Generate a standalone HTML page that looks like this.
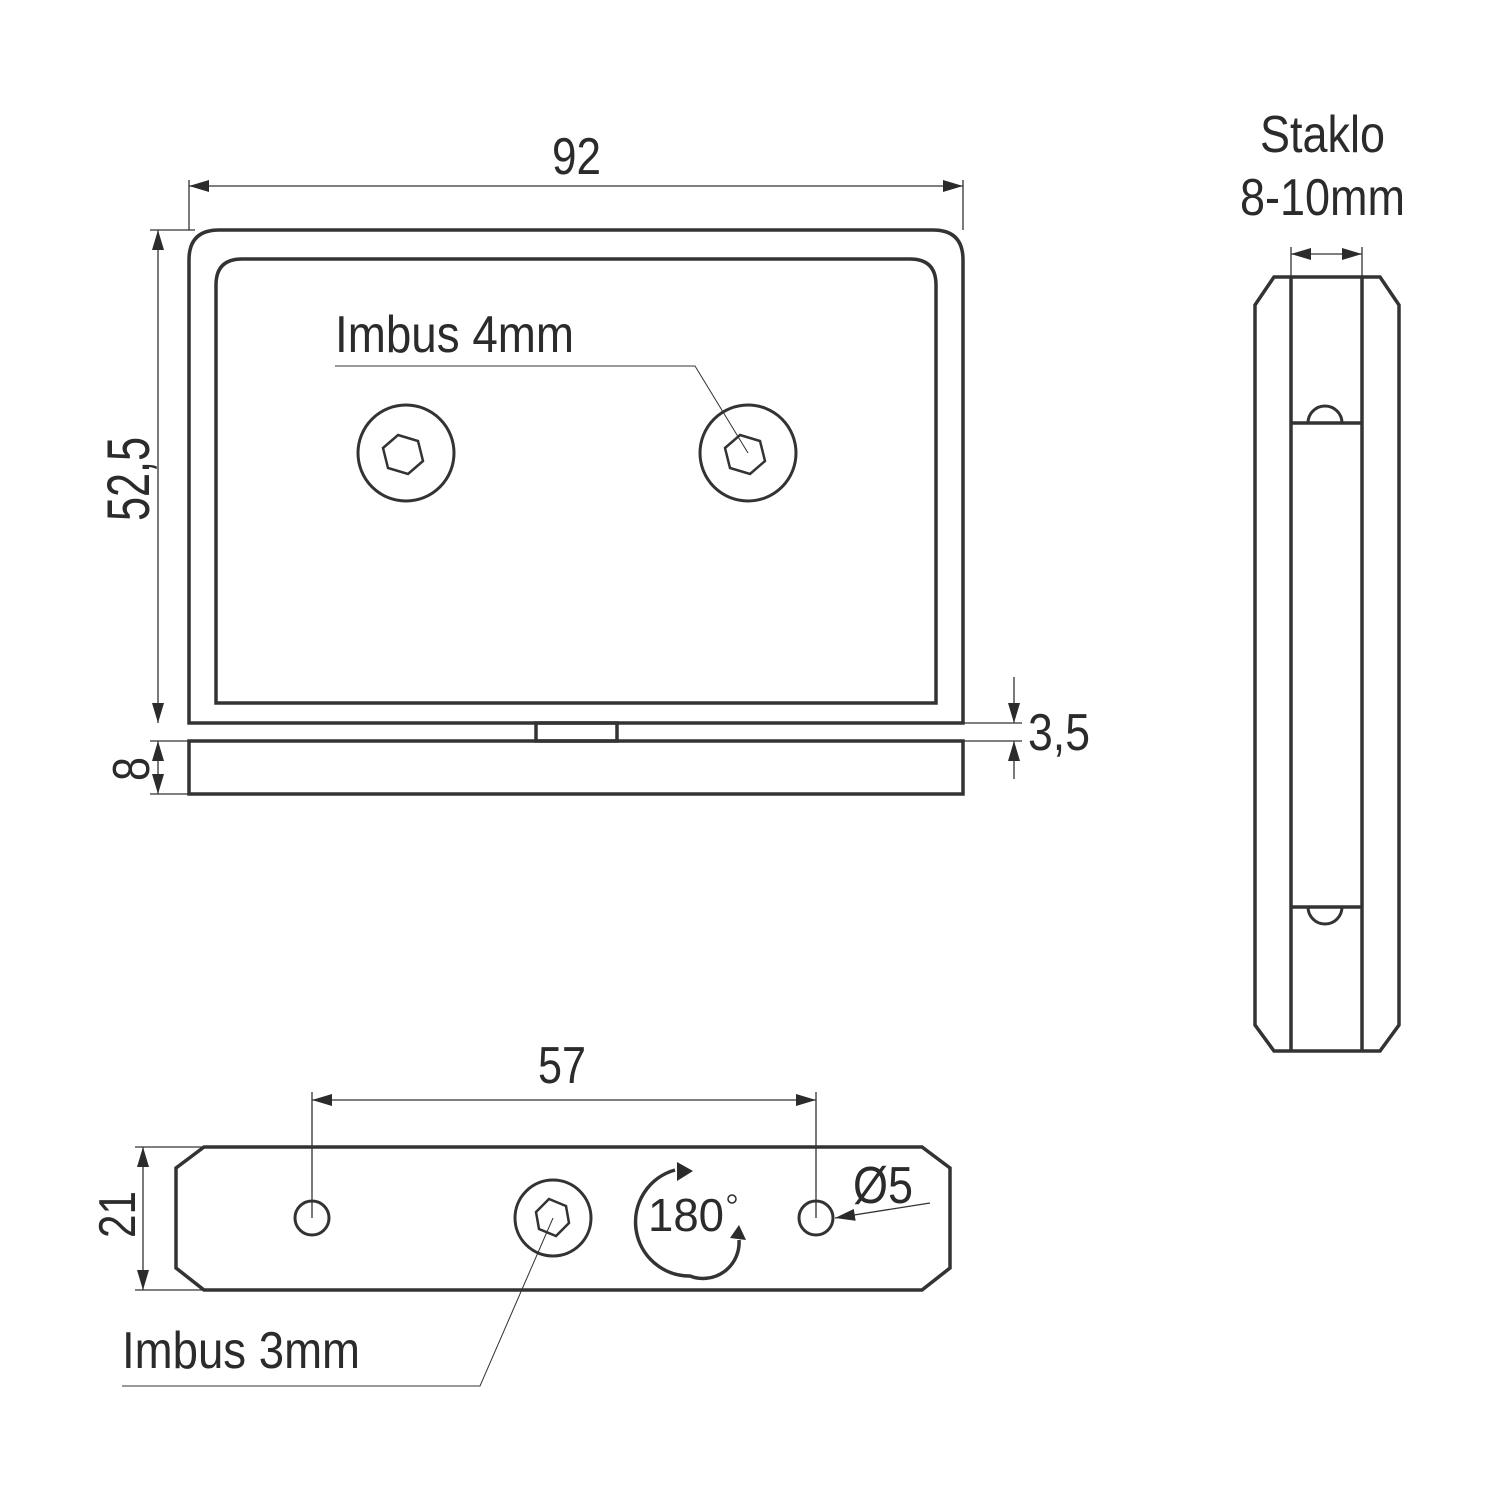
<!DOCTYPE html>
<html><head><style>html,body{margin:0;padding:0;background:#fff}svg{display:block}</style></head>
<body>
<svg width="1500" height="1500" viewBox="0 0 1500 1500" xmlns="http://www.w3.org/2000/svg" font-family="Liberation Sans, sans-serif" fill="none">
<defs>
<marker id="a" viewBox="0 0 20 12" refX="20" refY="6" markerWidth="20" markerHeight="12" markerUnits="userSpaceOnUse" orient="auto-start-reverse"><path d="M0,0L20,6L0,12z" fill="#2b2b2b"/></marker>
</defs>
<g stroke="#333" stroke-width="3.5" stroke-linejoin="miter">
<path d="M189,723V260Q189,230 219,230H933Q963,230 963,260V723Z"/>
<path d="M216,703V285Q216,259 242,259H910Q936,259 936,285V703Z"/>
<rect x="536" y="723" width="81" height="18"/>
<rect x="189" y="741" width="774" height="53"/>
<circle cx="406" cy="453" r="48" stroke-width="3"/>
<circle cx="748" cy="453" r="48" stroke-width="3"/>
<path d="M398,435L418,441L423,461L408,474L388,468L383,448Z" stroke-width="2.5"/>
<path d="M740,435L760,441L765,461L750,474L730,468L725,448Z" stroke-width="2.5"/>
<path d="M1255,305L1274,277H1380L1399,305V1025L1380,1051H1274L1255,1025Z"/>
<line x1="1291" y1="277" x2="1291" y2="1051"/>
<line x1="1362" y1="277" x2="1362" y2="1051"/>
<line x1="1291" y1="423" x2="1362" y2="423"/>
<line x1="1291" y1="907" x2="1362" y2="907"/>
<path d="M1308,423A17,17 0 0 1 1342,423" stroke-width="3"/>
<path d="M1308,907A17,17 0 0 0 1342,907" stroke-width="3"/>
<path d="M204,1147H922L950,1168V1268L922,1290H204L176,1268V1168Z"/>
<circle cx="312" cy="1218" r="17" stroke-width="3"/>
<circle cx="816" cy="1218" r="17" stroke-width="3"/>
<circle cx="553" cy="1218" r="38" stroke-width="3"/>
<path d="M549,1199L566,1206L569,1223L556,1236L539,1229L536,1212Z" stroke-width="2.5"/>
<path d="M675,1170A54,54 0 0 0 690,1276A36,36 0 0 0 739,1240" stroke-width="3.5"/>
</g>
<path d="M677,1162L693,1171L677,1181Z" fill="#2b2b2b"/>
<path d="M730,1238L739,1225L746,1240Z" fill="#2b2b2b"/>
<g stroke="#333" stroke-width="1.3">
<line x1="189" y1="180" x2="189" y2="230"/>
<line x1="963" y1="180" x2="963" y2="230"/>
<line x1="189" y1="186" x2="963" y2="186" marker-start="url(#a)" marker-end="url(#a)"/>
<line x1="150" y1="230" x2="195" y2="230"/>
<line x1="158" y1="230" x2="158" y2="723" marker-start="url(#a)" marker-end="url(#a)"/>
<line x1="150" y1="741" x2="189" y2="741"/>
<line x1="150" y1="794" x2="189" y2="794"/>
<line x1="158" y1="741" x2="158" y2="794" marker-start="url(#a)" marker-end="url(#a)"/>
<line x1="963" y1="723" x2="1022" y2="723"/>
<line x1="963" y1="741" x2="1022" y2="741"/>
<line x1="1014" y1="677" x2="1014" y2="723" marker-end="url(#a)"/>
<line x1="1014" y1="779" x2="1014" y2="741" marker-end="url(#a)"/>
<polyline points="335,366 695,366 748,453" stroke-width="1"/>
<line x1="1291" y1="247" x2="1291" y2="277"/>
<line x1="1362" y1="247" x2="1362" y2="277"/>
<line x1="1291" y1="254" x2="1362" y2="254" marker-start="url(#a)" marker-end="url(#a)"/>
<line x1="312" y1="1092" x2="312" y2="1218"/>
<line x1="816" y1="1092" x2="816" y2="1218"/>
<line x1="312" y1="1100" x2="816" y2="1100" marker-start="url(#a)" marker-end="url(#a)"/>
<line x1="135" y1="1147" x2="204" y2="1147"/>
<line x1="135" y1="1290" x2="204" y2="1290"/>
<line x1="143" y1="1147" x2="143" y2="1290" marker-start="url(#a)" marker-end="url(#a)"/>
<line x1="930" y1="1203" x2="835" y2="1218" marker-end="url(#a)"/>
<polyline points="122,1386 480,1386 553,1218" stroke-width="1"/>
</g>
<g fill="#2b2b2b" font-size="52">
<text x="552" y="174" textLength="49" lengthAdjust="spacingAndGlyphs">92</text>
<text x="335" y="352" textLength="239" lengthAdjust="spacingAndGlyphs">Imbus 4mm</text>
<text transform="translate(149,521) rotate(-90)" textLength="84" lengthAdjust="spacingAndGlyphs" font-size="60">52,5</text>
<text transform="translate(149,781) rotate(-90)" textLength="24" lengthAdjust="spacingAndGlyphs">8</text>
<text x="1028" y="750" textLength="62" lengthAdjust="spacingAndGlyphs">3,5</text>
<text x="1260" y="152" textLength="125" lengthAdjust="spacingAndGlyphs">Staklo</text>
<text x="1240" y="215" textLength="165" lengthAdjust="spacingAndGlyphs">8-10mm</text>
<text x="538" y="1083" textLength="48" lengthAdjust="spacingAndGlyphs">57</text>
<text transform="translate(135,1238) rotate(-90)" textLength="47" lengthAdjust="spacingAndGlyphs">21</text>
<text x="648" y="1231" textLength="76" lengthAdjust="spacingAndGlyphs" font-size="46">180</text>
<circle cx="732" cy="1199" r="4" stroke="#2b2b2b" stroke-width="1.5" fill="none"/>
<text x="853" y="1203" textLength="60" lengthAdjust="spacingAndGlyphs">Ø5</text>
<text x="122" y="1368" textLength="238" lengthAdjust="spacingAndGlyphs">Imbus 3mm</text>
</g>
</svg>
</body></html>
